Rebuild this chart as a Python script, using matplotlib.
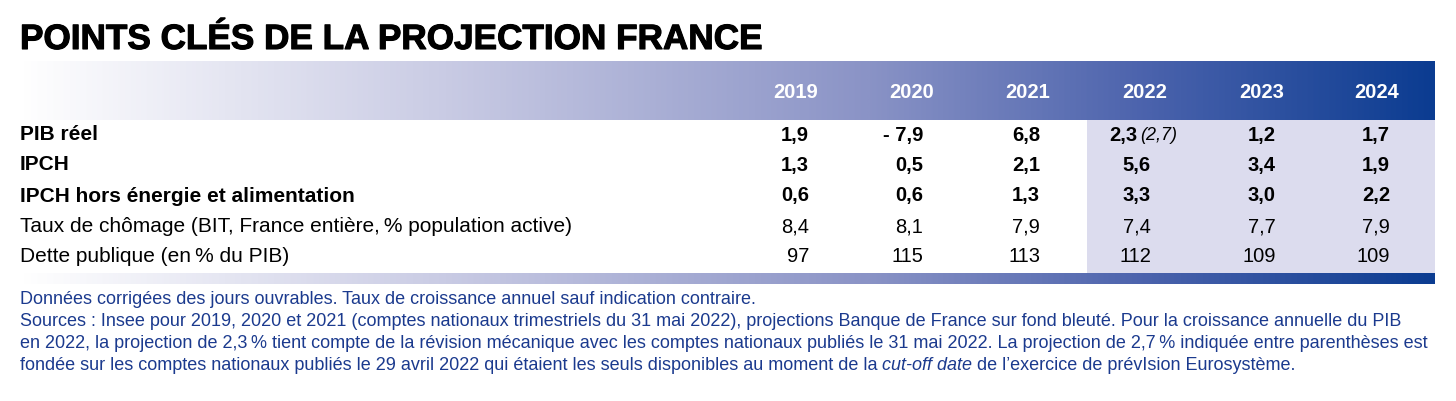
import matplotlib
matplotlib.use("Agg")
import matplotlib.pyplot as plt
import matplotlib.patheffects as pe
import numpy as np
from matplotlib.colors import LinearSegmentedColormap

plt.rcParams['font.family'] = ['Liberation Sans', 'DejaVu Sans']

# données du tableau
titre = "POINTS CLÉS DE LA PROJECTION FRANCE"
annees = ['2019', '2020', '2021', '2022', '2023', '2024']
libelles = ['PIB réel', 'IPCH', 'IPCH hors énergie et alimentation',
            'Taux de chômage (BIT, France entière,\u2009% population active)',
            'Dette publique (en\u2009% du PIB)']
libelles_gras = [True, True, True, False, False]
pib_reel = [1.9, -7.9, 6.8, 2.3, 1.2, 1.7]
ipch = [1.3, 0.5, 2.1, 5.6, 3.4, 1.9]
ipch_hors = [0.6, 0.6, 1.3, 3.3, 3.0, 2.2]
chomage = [8.4, 8.1, 7.9, 7.4, 7.7, 7.9]
dette = [97, 115, 113, 112, 109, 109]
pib_2022_avril = 2.7
notes = [
    "Données corrigées des jours ouvrables. Taux de croissance annuel sauf indication contraire.",
    "Sources : Insee pour 2019, 2020 et 2021 (comptes nationaux trimestriels du 31 mai 2022), projections Banque de France sur fond bleuté. Pour la croissance annuelle du PIB",
    "en 2022, la projection de 2,3\u2009% tient compte de la révision mécanique avec les comptes nationaux publiés le 31 mai 2022. La projection de 2,7\u2009% indiquée entre parenthèses est",
]
note_fin = ["fondée sur les comptes nationaux publiés le 29 avril 2022 qui étaient les seuls disponibles au moment de la ",
            "cut-off date", " de l\u2019exercice de prévIsion Eurosystème."]

W, H = 1456, 401
fig = plt.figure(figsize=(W / 100, H / 100), dpi=100)
ax = fig.add_axes([0, 0, 1, 1])
ax.set_xlim(0, W)
ax.set_ylim(H, 0)
ax.axis('off')

bleu_fonce = '#0b3c91'
cmap = LinearSegmentedColormap.from_list('bdf', [(0, '#ffffff'), (0.3, '#c9cbe4'),
                                                 (0.6, '#8a93c6'), (0.8, '#4a62ac'),
                                                 (1, bleu_fonce)])
grad = np.linspace(0, 1, 512).reshape(1, -1)
x0, x1 = 20, 1435
ax.imshow(grad, cmap=cmap, aspect='auto', extent=(x0, x1, 120, 61), zorder=1)
ax.imshow(grad, cmap=cmap, aspect='auto', extent=(x0, x1, 284, 273), zorder=1)
ax.fill_between([1087, x1], 120, 273, color='#dcdcee', lw=0, zorder=0)

ax.text(20, 49, titre, fontsize=25.3, fontweight='heavy', color='black', va='baseline',
        path_effects=[pe.withStroke(linewidth=0.8, foreground='black')])

col_droite = [809, 923, 1040, 1151, 1276, 1390]
col_centre = [796, 912, 1028, 1145, 1262, 1377]
for xc, a in zip(col_centre, annees):
    ax.text(xc, 92, a, fontsize=14.5, fontweight='bold', color='white', ha='center', va='center', zorder=3)


def fmt(v, dec=1):
    s = f"{abs(v):.{dec}f}".replace('.', ',')
    return ('- ' + s) if v < 0 else s


lignes = [pib_reel, ipch, ipch_hors, chomage, dette]
y_lignes = [135, 165, 196, 227, 257]
for lab, gras, vals, y in zip(libelles, libelles_gras, lignes, y_lignes):
    poids = 'bold' if gras else 'normal'
    ax.text(20, y, lab, fontsize=15, fontweight=poids, ha='left', va='center', zorder=3)
    for i, (xr, v) in enumerate(zip(col_droite, vals)):
        s = str(v) if isinstance(v, int) else fmt(v)
        if vals is pib_reel and i == 3:
            # valeur 2022 suivie de la projection d'avril entre parenthèses
            ax.text(xr - 14, y, s, fontsize=14.5, fontweight=poids, ha='right', va='center', zorder=3)
            ax.text(xr - 11, y + 1, '(' + fmt(pib_2022_avril) + ')', fontsize=13,
                    fontstyle='italic', ha='left', va='center', zorder=3)
        else:
            ax.text(xr, y, s, fontsize=14.5, fontweight=poids, ha='right', va='center', zorder=3)

bleu_note = '#1b3a8e'
taille_note = 13.0
y_notes = [300, 321, 343, 365]
for y, s in zip(y_notes, notes):
    ax.text(20, y, s, fontsize=taille_note, color=bleu_note, ha='left', va='center')

fig.canvas.draw()
rend = fig.canvas.get_renderer()
x = 20
inv = ax.transData.inverted()
for k, s in enumerate(note_fin):
    t = ax.text(x, y_notes[3], s, fontsize=taille_note, color=bleu_note, ha='left', va='center',
                fontstyle='italic' if k == 1 else 'normal')
    bb = t.get_window_extent(renderer=rend)
    x = inv.transform((bb.x1, bb.y0))[0]

fig.savefig('out.png', dpi=100)
